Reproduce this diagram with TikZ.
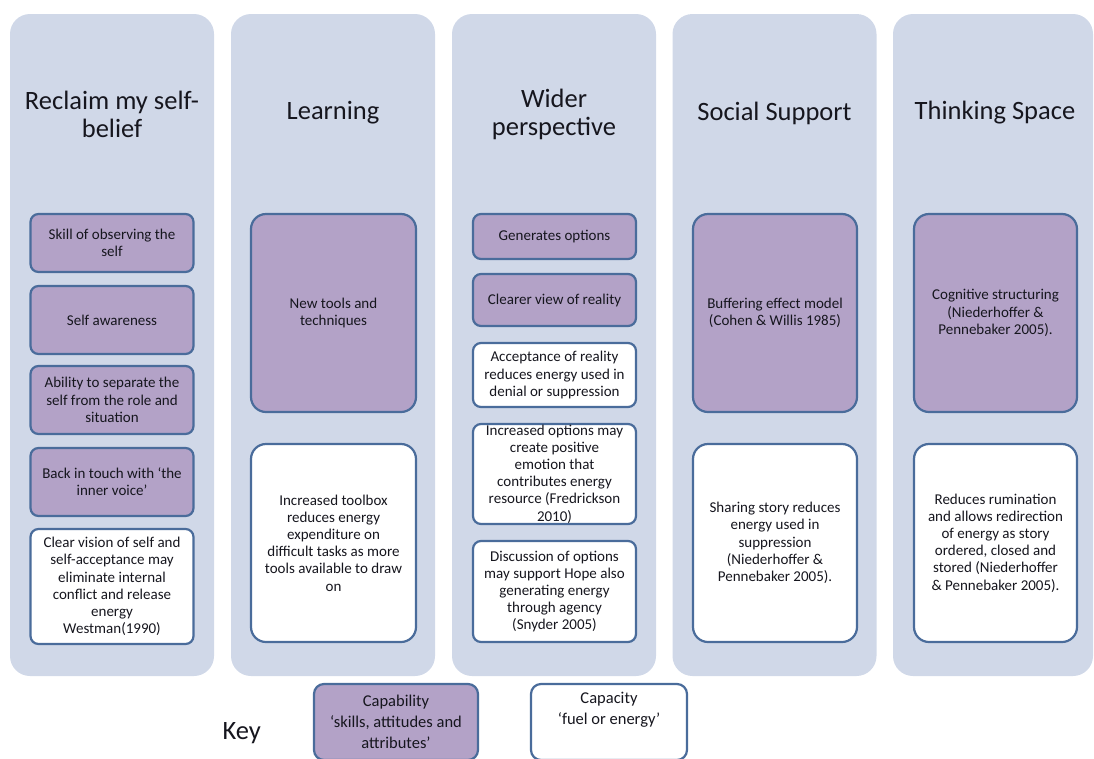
\documentclass[tikz,border=0pt]{standalone}
\usepackage{fontspec}
\setmainfont{Carlito}
\definecolor{panelbg}{HTML}{D0D8E8}
\definecolor{lilac}{HTML}{B3A2C7}
\definecolor{rim}{HTML}{4A6C9B}
\definecolor{ink}{HTML}{16161E}

\tikzset{
  panel/.style={fill=panelbg, rounded corners=20pt, minimum width=204pt, minimum height=662pt, inner sep=0pt},
  heading/.style={align=center, text=ink, font=\fontsize{26.5}{28}\selectfont},
  capab/.style={draw=rim, line width=2.2pt, fill=lilac, rounded corners=8pt, align=center, text=ink,
    font=\fontsize{15}{17.2}\selectfont, minimum width=163pt, inner sep=0pt},
  capac/.style={capab, fill=white},
  bigbox/.style={rounded corners=15pt, minimum height=198pt},
  keybox/.style={rounded corners=10pt, minimum height=76pt, font=\fontsize{16.5}{21}\selectfont},
}

\begin{document}
\begin{tikzpicture}[x=1pt, y=-1pt]
\useasboundingbox (0,0) rectangle (1094,758);
\begin{scope}
\clip (0,0) rectangle (1094,758);
\node[panel] at (112,345) (p1) {};
\node[panel] at (333,345) (p2) {};
\node[panel] at (554,345) (p3) {};
\node[panel] at (774.5,345) (p4) {};
\node[panel, minimum width=200pt] at (993,345) (p5) {};

\node[heading] at (112,114) (t1) {Reclaim my self-\\belief};
\node[heading] at (333,113) (t2) {Learning};
\node[heading] at (554,114) (t3) {Wider\\perspective};
\node[heading] at (774.5,113) (t4) {Social Support};
\node[heading] at (995,113) (t5) {Thinking Space};

\node[capab, minimum height=58pt] at (112,243) (b11) {Skill of observing the\\self};
\node[capab, minimum height=68pt] at (112,320) (b12) {Self awareness};
\node[capab, minimum height=68pt] at (112,400) (b13) {Ability to separate the\\self from the role and\\situation};
\node[capab, minimum height=68pt] at (112,482) (b14) {Back in touch with `the\\inner voice'};
\node[capac, minimum height=115pt] at (112,586.5) (b15) {Clear vision of self and\\self-acceptance may\\eliminate internal\\conflict and release\\energy\\Westman(1990)};

\node[capab, bigbox, minimum width=165pt] at (333.5,313) (b21) {New tools and\\techniques};
\node[capac, bigbox, minimum width=165pt] at (333.5,543) (b22) {Increased toolbox\\reduces energy\\expenditure on\\difficult tasks as more\\tools available to draw\\on};

\node[capab, minimum height=45pt] at (554.5,236.5) (b31) {Generates options};
\node[capab, minimum height=52pt] at (554.5,300) (b32) {Clearer view of reality};
\node[capac, minimum height=64pt] at (554.5,375) (b33) {Acceptance of reality\\reduces energy used in\\denial or suppression};
\node[capac, minimum height=100pt] at (554.5,474) (b34) {Increased options may\\create positive\\emotion that\\contributes energy\\resource (Fredrickson\\2010)};
\node[capac, minimum height=101pt] at (554.5,591.5) (b35) {Discussion of options\\may support Hope also\\generating energy\\through agency\\(Snyder 2005)};

\node[capab, bigbox, minimum width=164pt] at (775,313) (b41) {Buffering effect model\\(Cohen \& Willis 1985)};
\node[capac, bigbox, minimum width=164pt] at (775,543) (b42) {Sharing story reduces\\energy used in\\suppression\\(Niederhoffer \&\\Pennebaker 2005).};

\node[capab, bigbox, minimum width=163pt] at (995.5,313) (b51) {Cognitive structuring\\(Niederhoffer \&\\Pennebaker 2005).};
\node[capac, bigbox, minimum width=163pt] at (995.5,543) (b52) {Reduces rumination\\and allows redirection\\of energy as story\\ordered, closed and\\stored (Niederhoffer\\\& Pennebaker 2005).};

\node[heading, anchor=west] at (219,733) (key) {Key};
\node[capab, keybox, minimum width=164pt] at (396,722) (k1) {Capability\\`skills, attitudes and\\attributes'};
\node[capac, keybox, minimum width=156pt] at (609,722) (k2) {Capacity\\`fuel or energy'\\\strut};
\end{scope}
\end{tikzpicture}
\end{document}
